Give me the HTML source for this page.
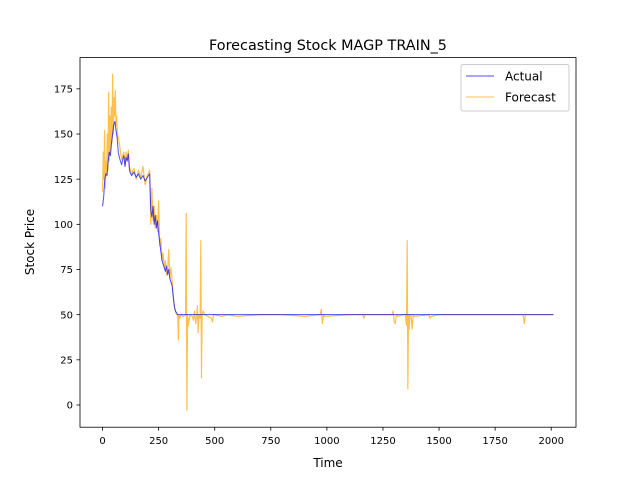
<!DOCTYPE html>
<html><head><meta charset="utf-8"><style>
html,body{margin:0;padding:0;background:#fff;}
svg{display:block;font-family:"DejaVu Sans","Liberation Sans",sans-serif;}
</style></head><body>
<svg id="chart" width="640" height="480" viewBox="0 0 640 480">
<rect width="640" height="480" fill="#fff"/>
<text x="328" y="50" text-anchor="middle" font-size="14.4">Forecasting Stock MAGP TRAIN_5</text>
<g id="plot"></g>
<g id="axes"></g>
<text x="328" y="467" text-anchor="middle" font-size="12">Time</text>
<text transform="translate(34,242) rotate(-90)" text-anchor="middle" font-size="12">Stock Price</text>
<g>
<rect x="461" y="64.5" width="108" height="46.5" rx="2" fill="#fff" fill-opacity="0.8" stroke="#ccc" stroke-width="1"/>
<line x1="466" y1="76" x2="494" y2="76" stroke="blue" stroke-opacity="0.7" stroke-width="1"/>
<text x="505" y="80.5" font-size="12">Actual</text>
<line x1="466" y1="97" x2="494" y2="97" stroke="orange" stroke-opacity="0.7" stroke-width="1"/>
<text x="505" y="101.5" font-size="12">Forecast</text>
</g>
</svg>
<script>
const xTicks=[0,250,500,750,1000,1250,1500,1750,2000];
const yTicks=[0,25,50,75,100,125,150,175];
const actualT=[0,5,10,15,20,25,30,35,40,45,50,55,60,65,70,75,80,85,90,95,100,105,110,115,120,125,130,140,150,160,170,180,190,200,210,215,220,225,230,235,240,245,250,255,260,265,270,275,280,285,290,295,300,305,310,315,320,325,330,335,2010];
const actualV=[110,115,125,128,127,135,140,138,145,150,155,157,152,148,140,137,135,133,136,138,132,137,135,139,130,128,127,129,126,128,125,127,124,126,128,108,104,110,100,105,98,102,95,90,85,80,78,76,74,77,72,75,70,68,66,60,55,52,51,50,50];
const forecastT=[0,3,6,9,12,15,18,21,24,27,30,33,36,39,42,45,48,51,54,57,60,63,66,70,75,80,85,90,95,100,105,110,115,120,130,140,150,160,170,180,190,200,210,215,220,225,230,235,240,245,250,255,260,265,270,275,280,285,290,295,300,305,308,312,316,320,325,330,335,338,341,344,350,360,370,373,376,379,382,390,400,405,410,415,420,423,426,430,435,438,441,444,448,455,470,485,490,495,500,530,560,600,700,800,900,970,975,980,985,990,1100,1160,1165,1170,1175,1250,1290,1295,1300,1305,1310,1315,1340,1350,1355,1358,1361,1364,1367,1370,1375,1380,1385,1390,1450,1455,1460,1465,1500,1700,1870,1875,1880,1885,2010];
const forecastV=[118,140,125,152,120,135,128,150,130,173,135,160,140,165,145,183,150,170,160,174,155,160,150,148,145,140,136,138,140,133,140,136,141,132,128,131,125,130,126,132,122,127,130,100,120,102,110,98,105,96,113,88,92,80,84,76,80,72,74,86,70,76,72,66,60,54,52,50,50,36,50,48,50,49,50,106,-3,50,44,50,49,47,52,45,50,55,40,50,48,91,15,50,52,50,49,48,46,50,50,49,50,49,50,50,49,50,53,45,50,49,50,50,48,50,50,50,50,52,46,45,50,49,50,50,44,91,9,50,42,50,50,42,50,49,50,50,48,49,50,50,50,50,45,50,50];

const NS='http://www.w3.org/2000/svg';
const L=80,R=576,T=57.6,B=427.2;
const xMin=-100.5,xMax=2110.5,yMin=-12.3,yMax=192.3;
function xs(v){return L+(v-xMin)/(xMax-xMin)*(R-L);}
function ys(v){return B-(v-yMin)/(yMax-yMin)*(B-T);}
const plot=document.getElementById('plot');
const axes=document.getElementById('axes');
function mk(tag,attrs,parent){const e=document.createElementNS(NS,tag);for(const k in attrs)e.setAttribute(k,attrs[k]);parent.appendChild(e);return e;}
function path(ts,vs){return ts.map((t,i)=>(i?'L':'M')+xs(t).toFixed(2)+','+ys(vs[i]).toFixed(2)).join('');}
const fl=mk('path',{d:path(forecastT,forecastV),fill:'none',stroke:'orange','stroke-opacity':0.7,'stroke-width':1.2,'stroke-linejoin':'round'},plot);


const al=mk('path',{d:path(actualT,actualV),fill:'none',stroke:'blue','stroke-opacity':0.7,'stroke-width':1,'stroke-linejoin':'round'},plot);


const frame=mk('rect',{x:L,y:T,width:R-L,height:B-T,fill:'none',stroke:'#000','stroke-width':0.8},axes);


xTicks.forEach(v=>{const x=xs(v);
 const tk=mk('line',{x1:x,y1:B,x2:x,y2:B+3.5,stroke:'#000','stroke-width':0.8},axes);
 
 
 const tx=mk('text',{x:x,y:B+17,'text-anchor':'middle','font-size':10},axes);tx.textContent=v;
 
 });
yTicks.forEach(v=>{const y=ys(v);
 const tk=mk('line',{x1:L-3.5,y1:y,x2:L,y2:y,stroke:'#000','stroke-width':0.8},axes);
 
 
 const tx=mk('text',{x:L-7,y:y+3.6,'text-anchor':'end','font-size':10},axes);tx.textContent=v;
 
 });
</script>
</body></html>
